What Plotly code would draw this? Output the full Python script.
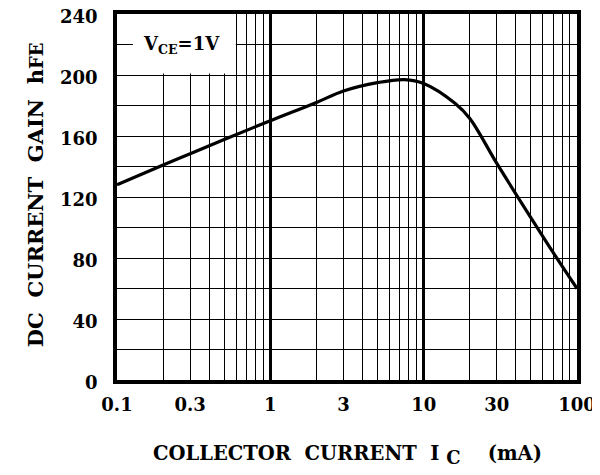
import math
import plotly.graph_objects as go

ic_ma = [0.1, 0.2, 0.3, 0.5, 1, 2, 3, 5, 7.5, 10, 16, 20, 30, 50, 70, 100]
hfe = [128, 141, 148.3, 157.7, 170, 182, 189.5, 195, 197, 194.5, 181.5, 171.5, 142, 106.5, 83.5, 60]

x_grid = [m * d for d in [0.1, 1, 10] for m in range(1, 10)] + [100]
x_labels = {0.1: "0.1", 0.3: "0.3", 1: "1", 3: "3", 10: "10", 30: "30", 100: "100"}
x_ticktext = [x_labels.get(round(v, 6), "") for v in x_grid]
x_decades = [1, 10]
y_tickvals = [0, 40, 80, 120, 160, 200, 240]

FONT = "DejaVu Serif"
NB = "\u00a0"

fig = go.Figure()
fig.add_trace(go.Scatter(x=ic_ma, y=hfe, mode="lines",
                         line=dict(color="black", width=3.2, shape="spline", smoothing=1.0),
                         showlegend=False, hoverinfo="skip"))

# page body has an 8px margin, so the figure is offset by 8px right and down
fig.update_layout(
    width=592, height=467,
    margin=dict(l=109, r=23, t=6, b=95),
    paper_bgcolor="white", plot_bgcolor="white",
    font=dict(family=FONT, size=18, color="black"),
    xaxis=dict(
        type="log", range=[-1, 2], automargin=False,
        tickvals=x_grid, ticktext=x_ticktext, ticklabeloverflow="allow",
        showgrid=True, gridcolor="black", gridwidth=1.2,
        tickfont=dict(family=FONT, size=18, color="black", weight="bold"),
        ticks="", ticklabelstandoff=6,
        minor=dict(tickvals=x_decades, showgrid=True, gridcolor="black", gridwidth=2.8, ticks=""),
        showline=True, linecolor="black", linewidth=3.5, mirror=True,
        zeroline=False,
    ),
    yaxis=dict(
        range=[0, 240], automargin=False,
        tickvals=y_tickvals, ticklabeloverflow="allow", ticklabelshift=3,
        showgrid=True, gridcolor="black", gridwidth=1.2,
        tickfont=dict(family=FONT, size=18, color="black", weight="bold"),
        ticks="", ticklabelstandoff=12,
        minor=dict(dtick=20, showgrid=True, gridcolor="black", gridwidth=1.2, ticks=""),
        showline=True, linecolor="black", linewidth=3.5, mirror=True,
        zeroline=False,
    ),
)

# axis titles
fig.add_annotation(xref="paper", yref="paper", x=0.5, y=0, yshift=-75,
                   xanchor="center", yanchor="middle", showarrow=False,
                   text=f"COLLECTOR{NB}{NB}CURRENT{NB}{NB}I{NB}<sub><span style='font-size:18px'>C</span></sub>{NB}{NB}{NB}{NB}(mA)",
                   font=dict(family=FONT, size=19.5, color="black", weight="bold"))
fig.add_annotation(xref="paper", yref="paper", x=0, xshift=-82, y=0.505,
                   xanchor="center", yanchor="middle", showarrow=False, textangle=-90,
                   text=f"DC{NB}{NB}CURRENT{NB}{NB}GAIN{NB}{NB}h<span style='font-size:18px'>FE</span>",
                   font=dict(family=FONT, size=21, color="black", weight="bold"))

# condition box
fig.add_shape(type="rect", xref="x", yref="y", x0=0.127, x1=0.595, y0=201, y1=240,
              fillcolor="white", line=dict(width=0), layer="above")
fig.add_annotation(x=math.log10(0.262), y=220, xref="x", yref="y", showarrow=False,
                   text="V<sub>CE</sub>=1V", xanchor="center", yanchor="middle",
                   font=dict(family=FONT, size=18, color="black", weight="bold"))

fig.write_html("out.html")
